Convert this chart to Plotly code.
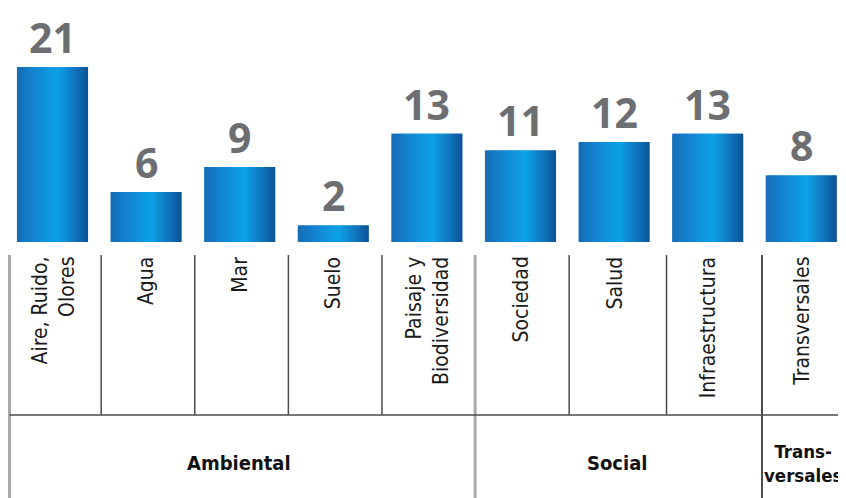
import plotly.graph_objects as go

categories = ["Aire, Ruido,<br>Olores", "Agua", "Mar", "Suelo", "Paisaje y<br>Biodiversidad",
              "Sociedad", "Salud", "Infraestructura", "Transversales"]
values = [21, 6, 9, 2, 13, 11, 12, 13, 8]
groups = ["Ambiental", "Social", "Trans-<br>versales"]
group_members = [5, 3, 1]

# page has an 8px body margin: figure drawn at (8, 8)
OFF = 8
W, H = 846 - OFF, 498 - OFF
n = len(categories)
xs = list(range(n))

stops = [(0.0, (22, 108, 180)), (0.2, (20, 128, 205)), (0.57, (12, 162, 232)),
         (0.8, (16, 120, 192)), (1.0, (12, 82, 150))]

def color_at(t):
    for (t0, c0), (t1, c1) in zip(stops[:-1], stops[1:]):
        if t0 <= t <= t1:
            f = (t - t0) / (t1 - t0)
            c = [round(a + (b - a) * f) for a, b in zip(c0, c1)]
            return "rgb(%d,%d,%d)" % tuple(c)
    return "rgb(%d,%d,%d)" % stops[-1][1]

bar_w = 0.76
M = 30
dw = bar_w / M
fig = go.Figure()
for j in range(M):
    extra = dw * 0.6 if j < M - 1 else 0
    fig.add_trace(go.Bar(
        x=xs, y=values, width=dw + extra, offset=-bar_w / 2 + j * dw,
        marker=dict(color=color_at((j + 0.5) / M), line=dict(width=0)),
        hoverinfo="skip", showlegend=False))

for i, v in enumerate(values):
    fig.add_annotation(x=i, y=v, text="<b>%d</b>" % v, showarrow=False, yanchor="bottom",
                       yshift=0, font=dict(family="Open Sans, Noto Sans, sans-serif", size=41,
                                           color="#6d6e71"))

label_font = dict(family="DejaVu Sans Condensed, Liberation Sans Narrow, sans-serif",
                  size=21, color="#1a1a1a")
y_top_px = 255
y_mid_px = 415

def py(px):
    return 1 - (px - OFF) / H

for i, c in enumerate(categories):
    fig.add_annotation(x=i, xref="x", y=py(y_top_px), yref="paper", text=c, textangle=-90,
                       showarrow=False, yanchor="top", xanchor="center", align="right",
                       font=label_font)

def line(x0, y0, x1, y1, color="#4a4a4a", width=1.5):
    fig.add_shape(type="line", xref="x", yref="paper", x0=x0, x1=x1, y0=py(y0), y1=py(y1),
                  line=dict(color=color, width=width))

bounds = [0]
for m in group_members:
    bounds.append(bounds[-1] + m)

nudge = {7: 0.06, 8: 0.08}
for k in range(1, n):
    if k in bounds:
        continue
    xk = k - 0.5 + nudge.get(k, 0.02)
    line(xk, y_top_px, xk, y_mid_px)
line(bounds[1] - 0.5 + 0.015, y_top_px, bounds[1] - 0.5 + 0.015, 498, color="#a8a8a8", width=3)
line(bounds[2] - 0.42, y_top_px, bounds[2] - 0.42, 498, color="#3a3a3a", width=1.8)

px_per_cat = 93.6
cx0 = 52.5 - OFF
left_x = (-cx0 + 1.5) / px_per_cat
line(left_x, y_top_px, left_x, 498, color="#a8a8a8", width=3)
fig.add_shape(type="line", xref="x", yref="paper", x0=left_x, x1=9, y0=py(y_mid_px), y1=py(y_mid_px),
              line=dict(color="#4a4a4a", width=1.5))

gx = [1.99, 6.03, 8.02]
gsize = [20, 20, 18.5]
for g, x, s in zip(groups, gx, gsize):
    fig.add_annotation(x=x, xref="x", y=py(463), yref="paper", text="<b>%s</b>" % g,
                       showarrow=False, xanchor="center", yanchor="middle", align="center",
                       font=dict(family="DejaVu Sans Condensed, Liberation Sans Narrow, sans-serif",
                                 size=s, color="#111111"))

x0 = -cx0 / px_per_cat
x1 = (W - cx0) / px_per_cat
ppu = 175 / 21
base = 242 - OFF
fig.update_layout(
    width=W, height=H, margin=dict(l=0, r=0, t=0, b=0),
    paper_bgcolor="white", plot_bgcolor="white", barmode="overlay",
    xaxis=dict(range=[x0, x1], visible=False, fixedrange=True),
    yaxis=dict(range=[(base - H) / ppu, base / ppu], visible=False, fixedrange=True),
    showlegend=False,
)
fig.write_html("out.html")
